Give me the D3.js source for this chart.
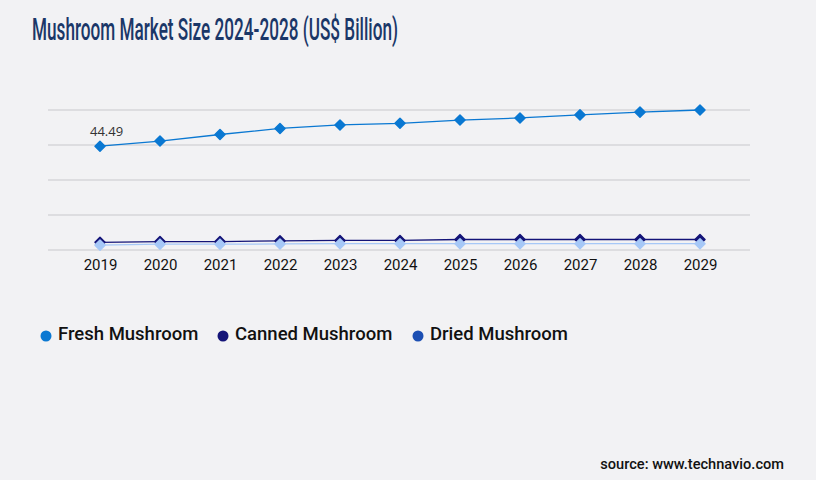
<!DOCTYPE html>
<html>
<head>
<meta charset="utf-8">
<script src="https://cdn.jsdelivr.net/npm/d3@7"></script>
<style>
  body { margin: 0; background: #f2f2f4; }
  svg { display: block; }
</style>
</head>
<body>
<svg class="chart"></svg>
<script>
// data
var years = [2019, 2020, 2021, 2022, 2023, 2024, 2025, 2026, 2027, 2028, 2029];
var fresh = [44.49, 46.7, 49.5, 52.1, 53.6, 54.3, 55.7, 56.6, 57.9, 59.1, 60.0];
var canned = [3.3, 3.6, 3.6, 3.9, 4.1, 4.1, 4.5, 4.5, 4.5, 4.5, 4.5];
var dried = [2.1, 2.5, 2.5, 2.6, 2.7, 2.7, 2.7, 2.7, 2.7, 2.7, 2.7];
var yTicks = [0, 15, 30, 45, 60];
var seriesNames = ["Fresh Mushroom", "Canned Mushroom", "Dried Mushroom"];

function show() {
    'use strict';

    var W = 816, H = 480;
    var chart = d3.select(".chart").attr("width", W).attr("height", H);

    chart.append("rect").attr("width", W).attr("height", H).attr("fill", "#f2f2f4");

    // title
    chart.append("text")
        .attr("x", 32).attr("y", 40)
        .attr("textLength", 366).attr("lengthAdjust", "spacingAndGlyphs")
        .style("font-family", "Roboto").style("font-weight", 500)
        .style("font-size", "31px").style("fill", "#1b3768")
        .text("Mushroom Market Size 2024-2028 (US$ Billion)");

    var x = d3.scalePoint().domain(years).range([100, 700]);
    var y = d3.scaleLinear().domain([0, 60]).range([250, 110]);

    // gridlines
    chart.append("g").selectAll("line").data(yTicks).enter().append("line")
        .attr("x1", 48).attr("x2", 750)
        .attr("y1", d => y(d)).attr("y2", d => y(d))
        .attr("stroke", "#c8c8cc").attr("stroke-width", 1);

    // x axis labels
    var xAxis = d3.axisBottom(x).tickSize(0).tickPadding(9);
    var gx = chart.append("g").attr("transform", "translate(0,250)").call(xAxis);
    gx.select(".domain").remove();
    gx.selectAll("text")
        .style("font-family", "Roboto").style("font-size", "15px")
        .style("fill", "#111");

    // canned first, dried drawn over it, fresh on top
    var series = [
        { name: seriesNames[1], values: canned, line: "#141478", marker: "#141478" },
        { name: seriesNames[2], values: dried, line: "#a6c8f7", marker: "#a6c8f7" },
        { name: seriesNames[0], values: fresh, line: "#0a78d2", marker: "#0a78d2" }
    ];

    var line = d3.line().x((d, i) => x(years[i])).y(d => y(d));
    var diamond = d3.symbol().type(d3.symbolDiamond2).size(64);

    series.forEach(function (s) {
        var g = chart.append("g");
        g.append("path").datum(s.values)
            .attr("d", line).attr("fill", "none")
            .attr("stroke", s.line).attr("stroke-width", 1.3);
        g.selectAll("path.pt").data(s.values).enter().append("path")
            .attr("class", "pt")
            .attr("d", diamond)
            .attr("transform", (d, i) => "translate(" + x(years[i]) + "," + y(d) + ")")
            .attr("fill", s.marker)
            .attr("stroke", s.marker).attr("stroke-width", 1.5).attr("stroke-linejoin", "round");
    });

    // first value label
    chart.append("text")
        .attr("x", x(years[0]) - 10).attr("y", y(fresh[0]) - 10)
        .style("font-family", "Open Sans").style("font-size", "13px")
        .style("fill", "#333").text(fresh[0].toFixed(2));

    // legend
    var legend = [
        { name: seriesNames[0], color: "#0a78d2", dx: 46 },
        { name: seriesNames[1], color: "#141478", dx: 223 },
        { name: seriesNames[2], color: "#1c4fb3", dx: 418 }
    ];
    var lg = chart.append("g").selectAll("g").data(legend).enter().append("g")
        .attr("transform", d => "translate(" + d.dx + ",335)");
    lg.append("circle").attr("r", 5.5).attr("cy", 1).attr("fill", d => d.color);
    lg.append("text").attr("x", 12).attr("y", 5)
        .style("font-family", "Roboto").style("font-weight", 500)
        .style("font-size", "18.5px").style("fill", "#111")
        .text(d => d.name);

    // source
    chart.append("text")
        .attr("x", 784).attr("y", 469).attr("text-anchor", "end")
        .style("font-family", "Roboto").style("font-weight", 500)
        .style("font-size", "14.6px").style("fill", "#111")
        .text("source: www.technavio.com");
}
show();
</script>
</body>
</html>
